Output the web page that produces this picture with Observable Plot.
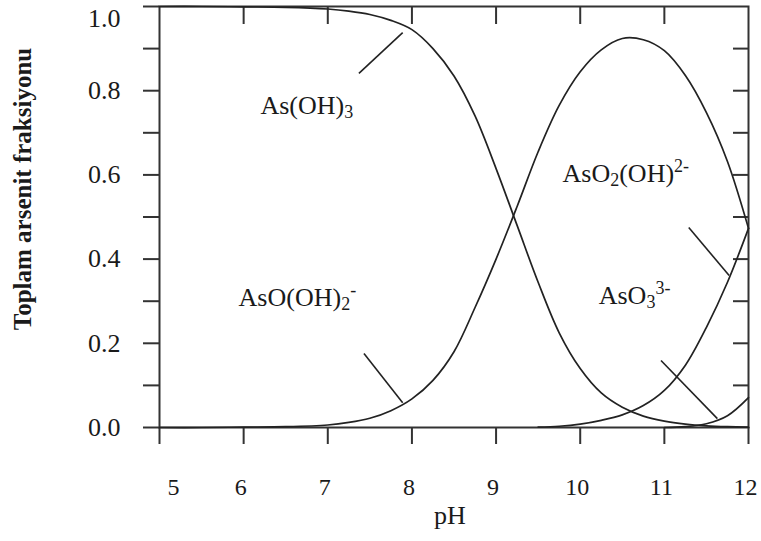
<!DOCTYPE html>
<html><head><meta charset="utf-8">
<script src="https://cdn.jsdelivr.net/npm/d3@7"></script>
<script src="https://cdn.jsdelivr.net/npm/@observablehq/plot@0.6"></script>
<style>body{margin:0;background:#fff} svg{display:block}</style>
</head><body><div id="chart"></div>
<script>
// ---- data ----
const pH = [5,5.5,6,6.5,7,7.25,7.5,7.75,8,8.25,8.5,8.75,9,9.25,9.5,9.75,10,10.25,10.5,10.75,11,11.25,11.5,11.75,12];
const asOH3   = [1.000,1.000,0.999,0.998,0.994,0.989,0.981,0.967,0.945,0.900,0.835,0.740,0.615,0.480,0.345,0.225,0.140,0.082,0.048,0.027,0.015,0.008,0.004,0.002,0.001];
const asOOH2  = [0,0,0.001,0.002,0.006,0.012,0.022,0.040,0.068,0.112,0.180,0.285,0.400,0.525,0.655,0.765,0.845,0.897,0.924,0.921,0.895,0.836,0.748,0.632,0.473];
const asO2OH  = [null,null,null,null,null,null,null,null,null,null,null,null,null,null,0.001,0.003,0.008,0.017,0.030,0.052,0.088,0.148,0.238,0.345,0.473];
const asO3    = [null,null,null,null,null,null,null,null,null,null,null,null,null,null,null,null,null,null,null,null,0.000,0.002,0.009,0.028,0.071];
const seriesNames = ["As(OH)3","AsO(OH)2-","AsO2(OH)2-","AsO3 3-"];
const seriesValues = [asOH3, asOOH2, asO2OH, asO3];

const xTicks = [5,6,7,8,9,10,11,12];
const yTicks = [0,0.2,0.4,0.6,0.8,1.0];
const yMinor = [0,0.1,0.2,0.3,0.4,0.5,0.6,0.7,0.8,0.9,1.0];
const yInner = [0.1,0.2,0.3,0.4,0.5,0.6,0.7,0.8,0.9];

const labelText = ["As(OH)_3","AsO(OH)_2^-","AsO_2(OH)^{2-}","AsO_3^{3-}"];
const labelPH   = [6.20, 5.94, 9.79, 10.22];
const labelFrac = [0.765, 0.309, 0.603, 0.313];

const leaderPH1   = [7.37, 7.43, 11.29, 10.96];
const leaderFrac1 = [0.841, 0.176, 0.475, 0.159];
const leaderPH2   = [7.89, 7.89, 11.77, 11.63];
const leaderFrac2 = [0.938, 0.059, 0.361, 0.021];

const yTitle = "Toplam arsenit fraksiyonu";
const xTitle = "pH";

// ---- tables ----
const rows = [];
seriesValues.forEach((vals, s) => vals.forEach((v, i) => {
  if (v !== null) rows.push({pH: pH[i], frac: v, species: seriesNames[s]});
}));
const labels = labelText.map((t, i) => ({t, x: labelPH[i], y: labelFrac[i]}));
const leaders = leaderPH1.map((x1, i) => ({x1, y1: leaderFrac1[i], x2: leaderPH2[i], y2: leaderFrac2[i]}));

const ink = "#1a1a1a";
const font = "'Liberation Serif','Times New Roman',serif";
const blank = () => "";

const chart = Plot.plot({
  width: 761, height: 541,
  marginLeft: 159, marginRight: 13, marginTop: 6, marginBottom: 114,
  x: {domain: [5, 12], axis: null, label: null},
  y: {domain: [0, 1], axis: null, label: null},
  style: {fontFamily: font, fontSize: "24px", color: ink, background: "#fff"},
  marks: [
    Plot.frame({stroke: "#333", strokeWidth: 2}),
    // tick marks
    Plot.axisX(xTicks, {anchor: "bottom", tickSize: 17, tickFormat: blank, label: null, stroke: "#333", strokeWidth: 2}),
    Plot.axisX(xTicks.slice(1, -1), {anchor: "top", tickSize: 17, dy: 17, tickFormat: blank, label: null, stroke: "#333", strokeWidth: 2}),
    Plot.axisY(yMinor, {anchor: "left", tickSize: 16, tickFormat: blank, label: null, stroke: "#333", strokeWidth: 2}),
    Plot.axisY(yInner, {anchor: "right", tickSize: 16, dx: -16, tickFormat: blank, label: null, stroke: "#333", strokeWidth: 2}),
    // tick labels
    Plot.axisX(xTicks.slice(1), {anchor: "bottom", tickSize: 0, tickPadding: 50, dx: -3, tickFormat: d => String(d), label: null, fill: ink, fontSize: 24}),
    Plot.axisX(xTicks.slice(0, 1), {anchor: "bottom", tickSize: 0, tickPadding: 50, dx: 14, tickFormat: d => String(d), label: null, fill: ink, fontSize: 24}),
    Plot.axisY(yTicks.slice(0, -1), {anchor: "left", tickSize: 0, tickPadding: 39, tickFormat: d3.format(".1f"), label: null, fill: ink, fontSize: 26}),
    Plot.axisY(yTicks.slice(-1), {anchor: "left", tickSize: 0, tickPadding: 39, dy: 12, tickFormat: d3.format(".1f"), label: null, fill: ink, fontSize: 26}),
    // titles
    Plot.text([yTitle], {frameAnchor: "left", textAnchor: "middle", rotate: -90, dx: -137, dy: -28, fontWeight: "bold", fontSize: 25, fill: ink}),
    Plot.text([xTitle], {frameAnchor: "bottom", textAnchor: "middle", dx: -4, dy: 96, fontSize: 26, fill: ink}),
    // curves
    Plot.line(rows, {x: "pH", y: "frac", z: "species", curve: "catmull-rom", stroke: "#222", strokeWidth: 1.7}),
    Plot.link(leaders, {x1: "x1", y1: "y1", x2: "x2", y2: "y2", stroke: "#222", strokeWidth: 1.6}),
    Plot.text(labels, {x: "x", y: "y", text: "t", textAnchor: "start", fontSize: 26, fill: ink})
  ]
});

// turn _x / ^{..} markup into sub/superscript tspans
const NS = "http://www.w3.org/2000/svg";
function richify(el, spec) {
  const parts = [];
  const re = /([_^])(\{[^}]*\}|.)/g;
  let last = 0, m;
  while ((m = re.exec(spec))) {
    if (m.index > last) parts.push({t: spec.slice(last, m.index), k: 0});
    let s = m[2]; if (s[0] === "{") s = s.slice(1, -1);
    parts.push({t: s, k: m[1] === "_" ? 1 : -1});
    last = re.lastIndex;
  }
  if (last < spec.length) parts.push({t: spec.slice(last), k: 0});
  el.textContent = "";
  let cur = 0;
  for (const p of parts) {
    const target = p.k === 1 ? 4 : p.k === -1 ? -10 : 0;
    const ts = document.createElementNS(NS, "tspan");
    ts.setAttribute("dy", String(target - cur));
    if (p.k !== 0) ts.setAttribute("font-size", "18");
    ts.textContent = p.t;
    el.appendChild(ts);
    cur = target;
  }
}
d3.select(chart).selectAll("text").each(function () {
  const t = this.textContent;
  if (labelText.includes(t)) richify(this, t);
});

document.getElementById("chart").appendChild(chart);
</script>
</body></html>
